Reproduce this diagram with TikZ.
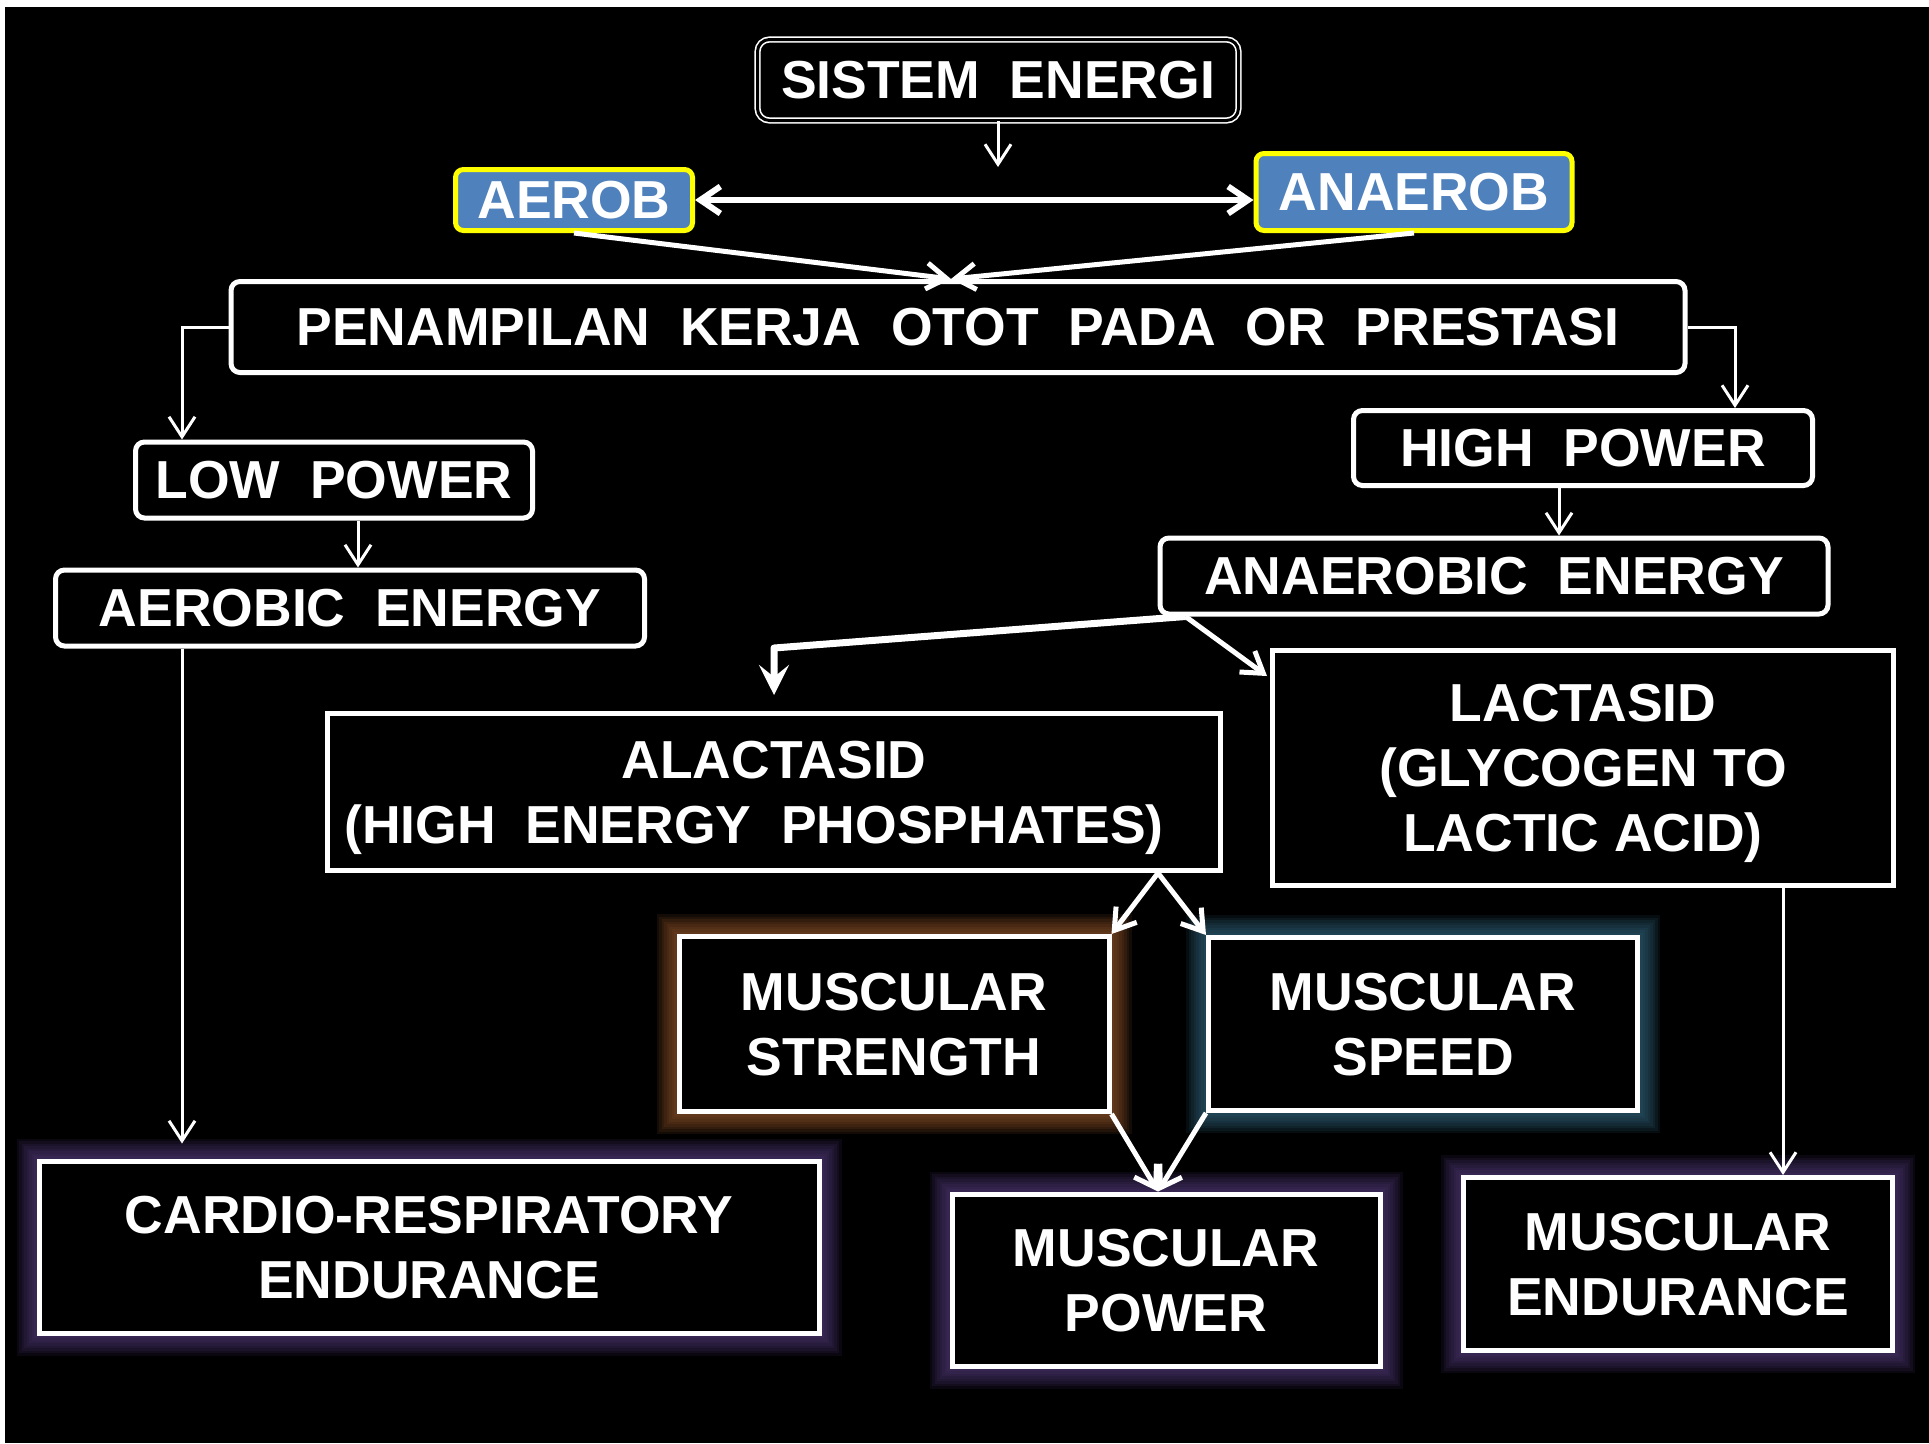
\documentclass[tikz,border=0pt]{standalone}
\usepackage{fontspec}
\setmainfont{Liberation Sans}
\usetikzlibrary{arrows.meta,calc}
\definecolor{aeroblue}{RGB}{79,129,189}
\definecolor{hlyellow}{RGB}{255,255,0}
\definecolor{gloworange}{RGB}{150,88,44}
\definecolor{glowblue}{RGB}{50,104,128}
\definecolor{glowpurple}{RGB}{84,60,124}
\pgfdeclarelayer{bg}
\pgfdeclarelayer{glow}
\pgfsetlayers{bg,glow,main}
\begin{document}
\begin{tikzpicture}[x=1pt,y=-1pt,
  sz/.style 2 args={minimum width=#1pt,minimum height=#2pt},
  box/.style={draw=white,line width=5pt,fill=black,text=white,align=center,inner sep=0pt,
    text depth=0pt,font=\fontsize{53.5}{65}\selectfont\bfseries},
  rbox/.style={box,rounded corners=9pt},
  sistembox/.style={box,line width=1.6pt,double=black,double distance=3pt,rounded corners=12pt},
  aerobox/.style={box,draw=hlyellow,fill=aeroblue,rounded corners=8pt},
  thinarrow/.style={draw=white,line width=3pt,-{Straight Barb[length=20pt,width=26pt]}},
  medarrow/.style={draw=white,line width=5pt,-{Straight Barb[length=20pt,width=26pt]}},
  dblarrow/.style={draw=white,line width=6pt,{Straight Barb[length=20pt,width=27pt]}-{Straight Barb[length=20pt,width=27pt]}},
  thickarrow/.style={draw=white,line width=7pt,line join=round,-{Stealth[length=30pt,width=30pt,inset=12pt]}},
  medline/.style={draw=white,line width=5pt}
]
\useasboundingbox (0,0) rectangle (1929,1443);
\begin{pgfonlayer}{bg}
  \fill[white] (0,0) rectangle (1929,1443);
  \fill[black] (5,7) rectangle (1929,1443);
\end{pgfonlayer}

% nodes
\node[sistembox,sz={481}{81}] (sistem) at (998,80) {SISTEM\ \ ENERGI};
\node[aerobox,sz={237}{61}] (aerob) at (574,200) {AEROB};
\node[aerobox,sz={316}{77}] (anaerob) at (1414,192) {ANAEROB};
\node[rbox,sz={1454}{91}] (penampilan) at (958,327) {PENAMPILAN\ \ KERJA\ \ OTOT\ \ PADA\ \ OR\ \ PRESTASI};
\node[rbox,sz={459}{75}] (high) at (1583,448) {HIGH\ \ POWER};
\node[rbox,sz={397}{76}] (low) at (334,480) {LOW\ \ POWER};
\node[rbox,sz={589}{76}] (aerobic) at (350,608) {AEROBIC\ \ ENERGY};
\node[rbox,sz={668}{76}] (anaerobic) at (1494,576) {ANAEROBIC\ \ ENERGY};
\node[box,sz={893}{157}] (alactasid) at (774,792) {ALACTASID\\(HIGH\ \ ENERGY\ \ PHOSPHATES)\hspace*{40pt}};
\node[box,sz={621}{235}] (lactasid) at (1583,768) {LACTASID\\(GLYCOGEN TO\\LACTIC ACID)};
\node[box,sz={430}{175}] (strength) at (894,1024) {MUSCULAR\\STRENGTH};
\node[box,sz={429}{173}] (speed) at (1423,1024) {MUSCULAR\\SPEED};
\node[box,sz={428}{172}] (power) at (1166,1280) {MUSCULAR\\POWER};
\node[box,sz={429}{173}] (mend) at (1678,1264) {MUSCULAR\\ENDURANCE};
\node[box,sz={780}{172}] (cardio) at (429,1247) {CARDIO-RESPIRATORY\\ENDURANCE};

% glows
\begin{pgfonlayer}{glow}
\foreach \n/\c in {strength/gloworange,speed/glowblue,power/glowpurple,mend/glowpurple,cardio/glowpurple}{
  \foreach \i in {1,...,8}{
    \fill[\c,opacity=0.13] ($(\n.south west)+(-\i*2.5pt,-\i*2.5pt)$) rectangle ($(\n.north east)+(\i*2.5pt,\i*2.5pt)$);
  }
}
\end{pgfonlayer}

% connectors
\coordinate (sysend) at (998,167);
\draw[thinarrow] (sistem.south) -- (sysend);
\draw[dblarrow] (aerob.east) -- (aerob.east -| anaerob.west);
\coordinate (meet) at ([xshift=-7pt]penampilan.north);
\draw[medarrow] (aerob.south) -- (meet);
\draw[medarrow] (anaerob.south) -- (meet);
\draw[thinarrow] (penampilan.west) -| ([xshift=49pt]low.north west);
\draw[thinarrow] (penampilan.east) -| ([xshift=-80pt]high.north east);
\draw[thinarrow] ([xshift=24pt]low.south) -- ([xshift=24pt]low.south |- aerobic.north);
\draw[thinarrow] ([xshift=-24pt]high.south) -- ([xshift=-24pt]high.south |- anaerobic.north);
\coordinate (split) at ([xshift=28pt]anaerobic.south west);
\draw[thickarrow] (split) -- ([yshift=63pt]alactasid.north) -- ([yshift=16pt]alactasid.north);
\draw[medarrow] (split) -- ([xshift=-3pt,yshift=-28pt]lactasid.north west);
\coordinate (alsplit) at ([xshift=-65pt]alactasid.south east);
\draw[medarrow] (alsplit) -- (strength.north east);
\draw[medarrow] (alsplit) -- (speed.north west);
\coordinate (pwmeet) at ([xshift=-8pt]power.north);
\draw[medarrow] (strength.south east) -- (pwmeet);
\draw[medarrow] (speed.south west) -- (pwmeet);
\draw[thinarrow] ([xshift=200pt]lactasid.south) -- ([xshift=200pt]lactasid.south |- mend.north);
\draw[thinarrow,shorten >=15pt] ([xshift=-168pt]aerobic.south) -- ([xshift=-168pt]aerobic.south |- cardio.north);
\end{tikzpicture}
\end{document}
